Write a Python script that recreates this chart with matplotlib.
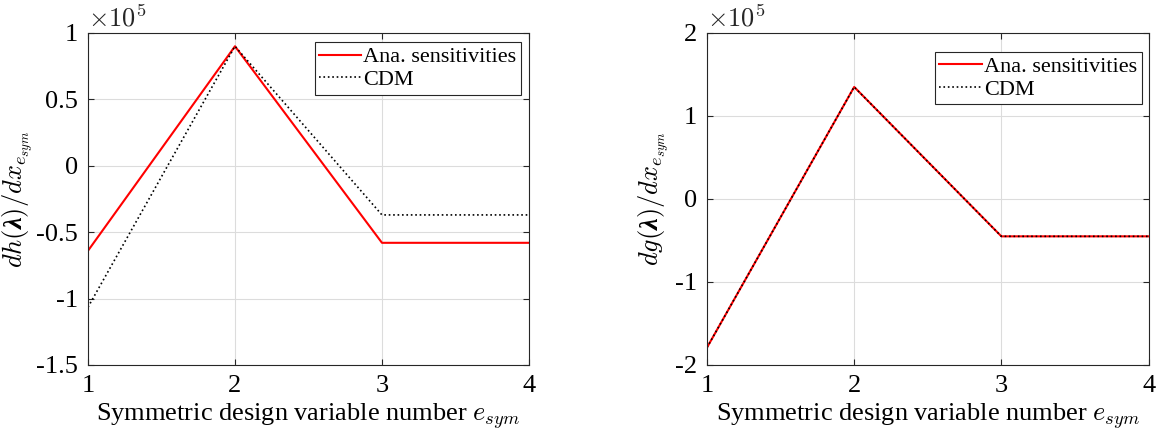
import matplotlib.pyplot as plt
import numpy as np

plt.rcParams['font.family'] = ['Liberation Serif', 'DejaVu Serif']
plt.rcParams['mathtext.fontset'] = 'cm'
# custom math set only for the y labels (bold lambda)
plt.rcParams['mathtext.rm'] = 'cmr10'
plt.rcParams['mathtext.it'] = 'cmmi10'
plt.rcParams['mathtext.bf'] = 'Liberation Serif:bold:italic'
plt.rcParams['mathtext.bfit'] = 'Liberation Serif:bold:italic'
plt.rcParams['mathtext.fallback'] = 'cm'

# design variable numbers
e_sym = [1, 2, 3, 4]

# left panel: dh(lambda)/dx, units of 1e5
dh_ana = [-0.64, 0.90, -0.58, -0.58]
dh_cdm = [-1.065, 0.90, -0.37, -0.37]

# right panel: dg(lambda)/dx, units of 1e5
dg_ana = [-1.79, 1.35, -0.45, -0.45]
dg_cdm = [-1.79, 1.35, -0.45, -0.45]

fig = plt.figure(figsize=(11.59, 4.34), dpi=100)
ax1 = fig.add_axes([0.0759, 0.159, 0.3805, 0.765])
ax2 = fig.add_axes([0.610, 0.159, 0.381, 0.765])

panels = [
    (ax1, dh_ana, dh_cdm, (-1.5, 1), [-1.5, -1, -0.5, 0, 0.5, 1],
     ['-1.5', '-1', '-0.5', '0', '0.5', '1'],
     r'$dh(\boldsymbol{\lambda})/dx_{e_{sym}}$', (0.982, 0.972), -0.118),
    (ax2, dg_ana, dg_cdm, (-2, 2), [-2, -1, 0, 1, 2],
     ['-2', '-1', '0', '1', '2'],
     r'$dg(\boldsymbol{\lambda})/dx_{e_{sym}}$', (0.984, 0.942), -0.079),
]

for ax, ana, cdm, ylim, yt, ytl, ylab, legpos, ylx in panels:
    ax.plot(e_sym, ana, color='red', lw=1.5, label='Ana. sensitivities')
    ax.plot(e_sym, cdm, color='black', lw=1.2, ls=':', label='CDM')
    ax.set_xlim(1, 4)
    ax.set_ylim(*ylim)
    ax.set_xticks([1, 2, 3, 4])
    ax.set_yticks(yt)
    ax.set_yticklabels(ytl)
    ax.grid(True, color='#dcdcdc', lw=0.8)
    ax.set_axisbelow(True)
    ax.tick_params(direction='in', top=True, right=True, labelsize=19,
                   color='#262626', length=4, pad=7)
    for s in ax.spines.values():
        s.set_color('#262626')
        s.set_linewidth(0.8)
    ax.set_xlabel(r'Symmetric design variable number $e_{sym}$', fontsize=19, labelpad=3)
    ax.set_ylabel(ylab, fontsize=19, math_fontfamily='custom')
    ax.yaxis.set_label_coords(ylx, 0.5)
    ax.text(0.0, 1.005, r'$\times10^5$', transform=ax.transAxes, fontsize=19,
            ha='left', va='bottom', color='#262626')
    leg = ax.legend(loc='upper right', bbox_to_anchor=legpos, bbox_transform=ax.transAxes,
                    fontsize=16, fancybox=False, framealpha=1, edgecolor='#262626',
                    borderpad=0.2, handlelength=1.9, handletextpad=0.1,
                    labelspacing=0.1, borderaxespad=0)
    leg.get_frame().set_linewidth(0.8)

fig.savefig('out.png', dpi=100)
